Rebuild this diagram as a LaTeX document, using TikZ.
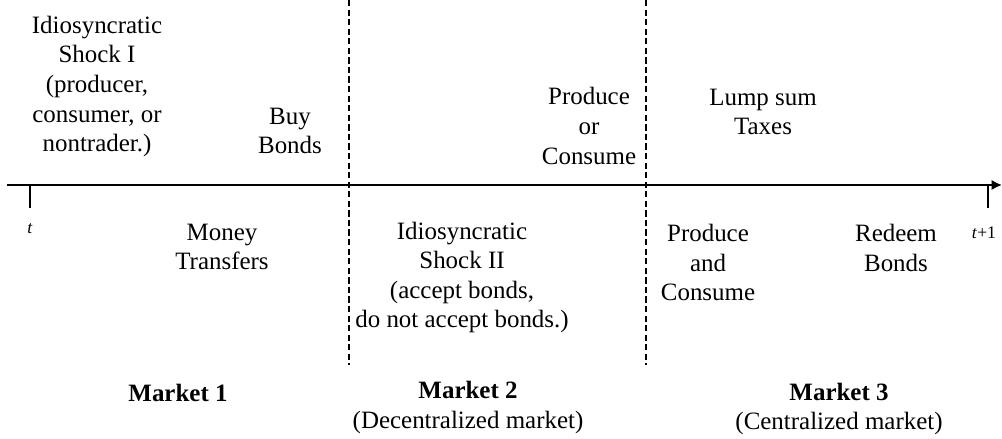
\documentclass[tikz,border=0pt]{standalone}
\usepackage{fontspec}
\setmainfont{Liberation Serif}
\usepackage{tikz}
\usetikzlibrary{arrows.meta,positioning}
\tikzset{
    % Base text label
    basenode/.style={
        align=center,
        inner sep=0pt,
        font=\fontsize{12}{14.2}\selectfont
    },
    % Market title
    marketnode/.style={
        basenode
    },
    % Time label
    timenode/.style={
        inner sep=0pt,
        font=\fontsize{8.5}{9}\selectfont
    },
    % Time axis
    axisarrow/.style={
        -{Latex[length=5pt,width=5pt]},
        line width=1pt,
        draw=black
    },
    % Tick on the axis
    tickline/.style={
        line width=1pt,
        draw=black
    },
    % Market separator
    sepline/.style={
        line width=0.5pt,
        dash pattern=on 3pt off 1.6pt,
        draw=black
    }
}
\begin{document}
\begin{tikzpicture}[x=0.0169cm, y=0.0169cm]
    \useasboundingbox (0,0) rectangle (1002,439);

    % Axis and ticks
    \coordinate (start) at (7,254);
    \coordinate (finish) at (1002,254);
    \coordinate (t0) at (30,254);
    \coordinate (t1) at (988,254);
    \draw[axisarrow] (start) -- (finish);
    \draw[tickline] (t0) -- ++(0,-23);
    \draw[tickline] (t1) -- ++(0,-23);
    \node[timenode] (tlabel) at (30,210) {\textit{t}};
    \node[timenode] (t1label) at (984,206) {\textit{t}+1};

    % Separators between markets
    \coordinate (sepA) at (349,439);
    \coordinate (sepB) at (646,439);
    \draw[sepline] (sepA) -- (349,74);
    \draw[sepline] (sepB) -- (646,74);

    % Events above the axis
    \node[basenode] (shockone) at (97,352.5) {Idiosyncratic\\Shock I\\(producer,\\consumer, or\\nontrader.)};
    \node[basenode] (buy) at (290,308) {Buy\\Bonds};
    \node[basenode] (prodor) at (589,313) {Produce\\or\\Consume};
    \node[basenode] (taxes) at (763,327) {Lump sum\\Taxes};

    % Events below the axis
    \node[basenode] (money) at (222,192) {Money\\Transfers};
    \node[basenode] (shocktwo) at (462,161.5) {Idiosyncratic\\Shock II\\(accept bonds,\\do not accept bonds.)};
    \node[basenode] (prodand) at (708,176.5) {Produce\\and\\Consume};
    \node[basenode] (redeem) at (896,191) {Redeem\\Bonds};

    % Market titles
    \node[marketnode] (mone) at (178,46) {\textbf{Market 1}};
    \node[marketnode] (mtwo) at (468,31.5) {\textbf{Market 2}\\(Decentralized market)};
    \node[marketnode] (mthree) at (839,30) {\textbf{Market 3}\\(Centralized market)};
\end{tikzpicture}
\end{document}
